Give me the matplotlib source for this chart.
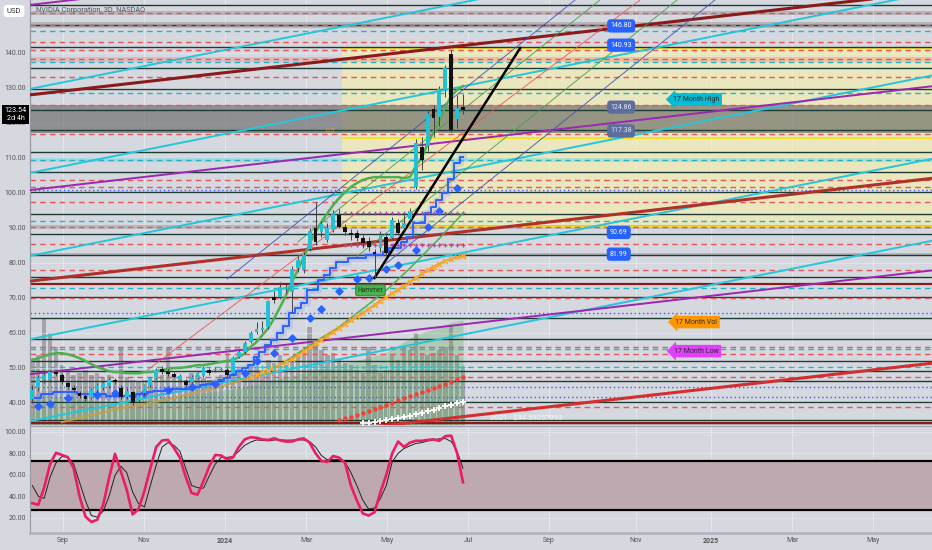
import numpy as np
import matplotlib
matplotlib.use('Agg')
import matplotlib.pyplot as plt
from matplotlib.transforms import blended_transform_factory

plt.rcParams['font.family'] = ['Roboto', 'DejaVu Sans']

nan = np.nan

# NVDA 3D candles, Aug 2023 -> Jun 2024
bar_open = [41.0, 44.3, 46.5, 46.5, 48.8, 48.0, 45.7, 44.3, 42.8, 42.0,
            41.4, 43.7, 44.3, 44.8, 46.5, 44.3, 41.6, 43.0, 40.8, 42.8,
            45.0, 47.0, 49.7, 48.9, 48.3, 46.5, 46.2, 46.1, 47.1, 47.7,
            49.4, 49.3, 49.4, 49.4, 48.5, 53.2, 54.5, 57.4, 60.2, 60.8,
            61.7, 70.3, 70.3, 72.5, 71.7, 78.5, 78.0, 84.0, 90.0, 88.8,
            86.6, 89.4, 93.7, 90.3, 88.6, 88.5, 87.1, 86.2, 83.2, 84.2,
            87.4, 87.1, 91.4, 90.0, 92.5, 101.7, 113.1, 113.4, 124.0, 121.7,
            129.4, 139.7, 121.1, 124.6]
bar_high = [45.0, 48.0, 49.0, 49.5, 49.5, 48.5, 46.2, 45.0, 43.5, 42.5,
            44.2, 45.6, 46.2, 47.0, 47.2, 45.0, 44.2, 43.5, 42.5, 45.5,
            47.5, 49.9, 50.5, 49.6, 48.8, 48.2, 46.7, 48.0, 49.0, 50.5,
            50.0, 50.2, 50.3, 49.9, 53.5, 55.2, 57.6, 60.5, 63.0, 63.5,
            69.5, 72.0, 74.5, 74.0, 79.0, 82.0, 83.0, 90.0, 97.4, 92.0,
            91.5, 95.0, 95.5, 91.2, 89.8, 89.5, 88.0, 87.5, 84.0, 89.0,
            88.5, 93.0, 92.5, 94.0, 95.6, 115.5, 116.0, 123.5, 125.2, 130.5,
            136.5, 140.8, 128.0, 128.2]
bar_low = [40.0, 43.5, 45.8, 46.0, 47.8, 45.5, 44.0, 43.2, 41.5, 40.5,
           41.0, 43.2, 43.8, 44.2, 45.4, 41.0, 41.0, 39.5, 40.3, 42.4,
           44.6, 46.8, 48.3, 47.6, 47.0, 46.0, 44.6, 45.7, 46.8, 47.3,
           48.0, 48.8, 49.0, 47.5, 48.0, 52.8, 54.0, 57.0, 59.8, 60.3,
           61.0, 68.5, 69.8, 71.5, 66.0, 77.5, 77.2, 83.5, 85.0, 87.5,
           86.0, 88.8, 90.0, 88.0, 86.5, 86.2, 84.3, 83.5, 75.7, 83.0,
           82.0, 86.5, 88.0, 89.5, 91.8, 101.2, 106.5, 112.0, 116.0, 119.0,
           127.5, 117.5, 118.5, 122.4]
bar_close = [43.7, 47.1, 48.0, 48.9, 48.2, 46.0, 44.5, 43.7, 42.0, 41.1,
             43.7, 45.1, 45.7, 46.5, 46.0, 41.7, 43.5, 40.1, 42.0, 45.0,
             47.0, 49.4, 48.8, 48.2, 47.4, 47.7, 45.0, 47.5, 48.5, 50.0,
             48.5, 49.7, 49.8, 48.0, 52.8, 54.6, 57.1, 60.0, 61.0, 61.5,
             69.0, 69.4, 73.0, 73.2, 78.2, 80.8, 82.3, 89.0, 85.9, 91.2,
             90.0, 94.2, 90.3, 88.8, 88.1, 87.1, 85.7, 84.5, 82.5, 88.0,
             82.8, 92.3, 88.5, 91.4, 94.8, 114.2, 109.4, 122.5, 121.5, 129.7,
             135.7, 118.1, 124.2, 123.54]
volume_m = [1005, 1050, 1605, 1380, 1170, 900, 825, 750, 780, 825,
            750, 780, 720, 750, 675, 1155, 720, 675, 660, 675,
            630, 720, 750, 1155, 750, 720, 675, 780, 750, 705,
            675, 660, 750, 1080, 900, 870, 825, 900, 870, 825,
            975, 930, 1050, 900, 1020, 1080, 1125, 1470, 1200, 1125,
            1050, 1080, 975, 930, 900, 825, 780, 1170, 900, 780,
            825, 1050, 975, 1170, 1125, 1380, 1080, 1050, 1080, 1125,
            1170, 1500, 1050, 870]

# overlays
green_ma = [52.2, 52.8, 53.4, 53.9, 54.2, 54.2, 53.9, 53.4, 52.8, 52.0,
            51.1, 50.2, 49.7, 49.1, 48.8, 48.8, 48.5, 48.5, 48.5, 48.8,
            48.8, 49.1, 49.4, 49.7, 50.0, 50.0, 50.2, 50.5, 50.8, 50.8,
            51.1, 51.4, 51.7, 52.0, 52.2, 53.1, 54.2, 56.0, 57.4, 59.4,
            61.4, 64.2, 67.4, 70.8, 74.5, 78.0, 81.7, 85.4, 88.8, 91.7,
            94.2, 96.5, 98.5, 100.2, 101.7, 102.8, 103.7, 104.2, 104.5, 104.5,
            104.5, 104.5, 104.5, 104.2, 104.5, 107.7, 110.0, 114.0, 117.4, 120.8,
            124.5, 127.7, 129.4, 130.5]
lower_green = [50.8, 52.0, 53.1, 54.2, 55.3, 56.4, 57.5, 58.6, 59.6, 60.6,
               61.7, 63.0, 64.3, 65.6, 66.9, 68.2, 69.5, 70.9, 72.2, 73.7,
               75.3, 76.9, 78.5, 80.2, 81.9, 83.6, 85.3, 87.0, 88.8, 90.6,
               92.4, 94.2]
lower_green_start = 42
blue_step = [41.5, 41.5, 42.5, 42.5, 43.0, 43.0, 43.0, 43.0, 42.5, 42.5,
             42.5, 42.5, 42.5, 42.0, 42.0, 42.0, 42.0, 42.0, 42.5, 42.5,
             43.0, 43.5, 43.5, 44.0, 44.0, 44.0, 44.0, 44.5, 44.5, 45.0,
             45.5, 46.0, 46.5, 47.0, 48.0, 49.0, 50.0, 50.8, 53.1, 54.5,
             56.5, 58.0, 60.0, 62.0, 65.7, 67.0, 68.5, 72.2, 72.2, 75.1,
             76.5, 78.5, 80.2, 80.2, 81.4, 81.4, 81.4, 82.3, 82.3, 82.3,
             83.2, 84.2, 84.2, 86.0, 87.4, 91.4, 91.4, 94.2, 96.0, 98.0,
             100.0, 104.0, 108.5, 110.2]
diamond_bar = [1, 3, 6, 11, 14, 19, 23, 27, 31, 36, 38, 41, 44, 47, 49, 52,
               55, 57, 60, 62, 65, 67, 69, 72]
diamond_price = [39.1, 39.7, 41.4, 42.2, 42.8, 42.8, 43.7, 44.5, 45.4, 48.5,
                 51.9, 54.2, 58.6, 64.2, 66.8, 72.0, 75.4, 75.7, 78.2, 79.4,
                 83.7, 90.3, 94.8, 101.4]
orange_ma = [nan, nan, nan, nan, nan, 34.5, 34.9, 35.3, 35.7, 36.1,
             36.5, 36.9, 37.3, 37.7, 38.1, 38.5, 38.8, 39.1, 39.4, 39.7,
             40.0, 40.3, 40.7, 41.1, 41.5, 41.9, 42.3, 42.7, 43.1, 43.5,
             43.9, 44.3, 44.7, 45.2, 45.7, 46.2, 46.8, 47.4, 48.0, 48.7,
             49.4, 50.1, 50.8, 51.6, 52.6, 53.7, 54.8, 55.9, 57.0, 58.1,
             59.2, 60.3, 61.4, 62.5, 63.6, 64.7, 65.8, 66.9, 68.0, 69.1,
             70.2, 71.3, 72.4, 73.5, 74.6, 75.7, 76.8, 77.9, 78.9, 79.8,
             80.6, 81.2, 81.6, 82.0]
orange_cross_start = 37
red_dots = [35.1, 35.6, 36.1, 36.6, 37.1, 37.7, 38.3, 38.9, 39.5, 40.1, 40.7,
            41.3, 41.9, 42.5, 43.1, 43.7, 44.3, 44.9, 45.5, 46.1, 46.7, 47.4]
red_dots_start = 52
white_plus = [34.2, 34.4, 34.6, 34.9, 35.2, 35.5, 35.8, 36.1, 36.4, 36.8,
              37.2, 37.6, 38.0, 38.5, 39.0, 39.5, 40.0, 40.4]
white_plus_start = 56
cloud_top = [41.0, 41.2, 41.4, 41.5, 41.6, 41.6, 41.5, 41.4, 41.2, 41.0,
             40.8, 40.6, 40.5, 40.5, 40.6, 40.8, 41.0, 41.0, 41.0, 41.1,
             41.2, 41.4, 41.6, 41.8, 42.0, 42.2, 42.4, 42.6, 42.8, 43.0,
             43.2, 43.4, 43.6, 43.8, 44.0, 44.3, 44.6, 45.0, 45.4, 45.8,
             46.2, 46.6, 47.0, 47.4, 47.8, 48.2, 48.6, 49.0, 49.4, 49.8,
             50.2, 50.6, 51.0, 51.4, 51.8, 52.2, 52.6, 53.0, 53.5, 54.0,
             54.5, 55.5, 56.5, 57.5, 58.5, 59.4, 60.0, 60.6, 61.2, 61.8,
             62.4, 63.0, 63.4, 63.7]
purple_plus_levels = [94.3, 85.0]
purple_plus_start = 53

# stochastic panel
stoch_k = [33.5, 32, 48, 70, 80.5, 78.5, 76.5, 66, 40, 21,
           16, 18, 32, 57, 79.5, 63, 46, 23, 28, 45,
           66, 86, 92, 92.5, 85, 76, 58, 43, 41.5, 54,
           68, 78.5, 78, 74.5, 76, 86, 93, 95, 94.5, 93,
           92.5, 94, 92, 91, 91, 93, 94, 90, 80, 73,
           72, 77.5, 76, 71, 50, 36, 24, 22, 25, 43.8,
           60, 80, 91, 86, 90, 91.7, 91.7, 92.5, 93, 91.7,
           96, 96.5, 80, 53]
stoch_d = [50, 40, 38, 57.7, 71, 77, 76.5, 70, 53, 36,
           22, 20.6, 26, 40, 59.3, 68, 62, 44, 33, 30,
           50, 69, 86, 90, 87.5, 82, 66, 50, 48, 47.5,
           59, 70, 76.2, 76.2, 77, 82, 87.5, 90.5, 92.5, 92,
           91.7, 92.4, 92.6, 92.3, 92.4, 92.6, 92.4, 91, 86, 78,
           74, 74.5, 74, 72, 62, 50, 36.5, 28, 29, 38,
           50, 72, 80, 84.5, 87, 89.2, 90, 91.5, 92.6, 93.6,
           93.8, 91, 82, 66]
stoch_upper, stoch_lower = 72.5, 27.0

# horizontal levels
solid_levels = [153.7, 148.0, 141.8, 135.6, 129.7, 123.7, 118.0, 111.8, 105.9,
                100.2, 93.9, 88.2, 82.3, 76.1, 70.3, 64.3, 58.2, 52.0, 49.1,
                46.4, 40.2, 35.1]
red_dash_levels = [151.5, 147.9, 143.2, 140.8, 138.2, 133.2, 125.1, 116.8, 103.7,
                   101.7, 97.5, 90.3, 85.4, 77.9, 69.9, 56.0, 54.0, 47.5, 38.9]
teal_dash_levels = [146.2, 137.5, 128.6, 109.4, 92.1, 72.9, 55.4, 50.4]
blue_dot_levels = [100.8, 65.8, 44.6, 41.6]
darkred_levels = [74.0, 34.4]
gray_bands = [(150.9, 152.1), (147.2, 148.8), (89.8, 90.9), (81.9, 82.8), (33.7, 34.6)]
range_band = (117.2, 125.0)
pink_band = (137.4, 138.8)
teal_band = (108.8, 110.0)
fib_start, fib_top, fib_mid, fib_bottom = 52.5, 141.4, 115.6, 90.3

# parallel channels: price at left edge, rise per bar
red_starts, red_slope = [128.0, 74.8, 22.0], 0.192
cyan_starts, cyan_slope = [129.7, 105.7, 82.0, 58.2, 34.8], 0.337
purple_starts, purple_slope = [153.7, 100.8, 48.2], 0.194
fan_lines = [(33, 75.4, 92.0, 155.1, '#3f51b5'), (45, 86.0, 96.2, 155.1, '#43a047'),
             (19.5, 49.4, 103.0, 155.1, '#ef5350'), (55, 81.8, 109.3, 155.1, '#43a047'),
             (60, 79.9, 115.7, 155.1, '#3f51b5')]
trend_line = (58, 75.7, 82.7, 141.4)

month_ticks = [5.2, 18.9, 32.7, 46.4, 60.1, 73.9, 87.6, 102.3, 115.0, 128.8, 142.5]
month_labels = ['Sep', 'Nov', '2024', 'Mar', 'May', 'Jul', 'Sep', 'Nov', '2025', 'Mar', 'May']
price_ticks = [40, 50, 60, 70, 80, 90, 100, 110, 120, 130, 140]
stoch_ticks = [20, 40, 60, 80, 100]

bg = '#d5d8df'
xmin, xmax = -0.4, 152.5
bars = np.arange(len(bar_close))

fig = plt.figure(figsize=(9.32, 5.5), dpi=100, facecolor=bg)
ax_v = fig.add_axes([30 / 932, 125 / 550, 902 / 932, 425 / 550])
ax = fig.add_axes([30 / 932, 125 / 550, 902 / 932, 425 / 550], sharex=ax_v)
ax2 = fig.add_axes([30 / 932, 17 / 550, 902 / 932, 107 / 550], sharex=ax_v)

ax_v.set_facecolor(bg)
ax.patch.set_visible(False)
ax2.set_facecolor(bg)

# volume behind everything
ax_v.bar(bars, volume_m, width=0.75, color='#7a7a7a', alpha=0.55, zorder=1)
ax_v.set_ylim(0, 6375)
ax_v.set_yticks([])

ax.set_xlim(xmin, xmax)
ax.set_ylim(33.7, 155.1)

for t in month_ticks:
    ax.axvline(t, color='#eceef2', lw=0.7, alpha=0.7, zorder=0.2)
    ax2.axvline(t, color='#eceef2', lw=0.7, alpha=0.7, zorder=0.2)
for p in price_ticks:
    ax.axhline(p, color='#eceef2', lw=0.6, alpha=0.6, zorder=0.2)

# zones and bands
ax.fill_between([fib_start, xmax], fib_bottom, fib_top, color='#fff59d', alpha=0.5, lw=0, zorder=0.5)
for lvl in (fib_top, fib_mid, fib_bottom):
    ax.plot([fib_start, xmax], [lvl, lvl], color='#ffe000', lw=1.1, zorder=1.5)
for lo, hi in gray_bands:
    ax.axhspan(lo, hi, color='#777777', alpha=0.35, lw=0, zorder=0.8)
ax.axhspan(*range_band, color='#5f5f5f', alpha=0.6, lw=0, zorder=0.8)
ax.axhspan(*pink_band, color='#f08080', alpha=0.35, lw=0, zorder=0.8)
ax.axhspan(*teal_band, color='#4dd0e1', alpha=0.35, lw=0, zorder=0.8)

# cloud
ax.fill_between(bars, 33.7, cloud_top, color='#5aa860', alpha=0.3, lw=0, zorder=1)

for lvl in solid_levels:
    ax.axhline(lvl, color='#1e3b36', lw=1.0, zorder=2)
for lvl in red_dash_levels:
    ax.axhline(lvl, color='#e8565a', lw=1.0, ls=(0, (4, 3)), zorder=2)
for lvl in teal_dash_levels:
    ax.axhline(lvl, color='#26b5c4', lw=1.0, ls=(0, (4, 3)), zorder=2)
for lvl in blue_dot_levels:
    ax.axhline(lvl, color='#3d5afe', lw=1.0, ls=(0, (1, 2)), zorder=2)
for lvl in darkred_levels:
    ax.axhline(lvl, color='#8b1a1a', lw=1.6, zorder=2)

# channels
span = xmax - xmin
for s in cyan_starts:
    ax.plot([xmin, xmax], [s, s + cyan_slope * span], color='#26c6da', lw=1.4, zorder=3)
for s in purple_starts:
    ax.plot([xmin, xmax], [s, s + purple_slope * span], color='#9c27b0', lw=1.4, zorder=3)
red_colors = ['#8b1a1a', '#b0302a', '#d32f2f']
for s, c in zip(red_starts, red_colors):
    ax.plot([xmin, xmax], [s, s + red_slope * span], color=c, lw=2.2, zorder=3)
for b0, p0, b1, p1, c in fan_lines:
    ax.plot([b0, b1], [p0, p1], color=c, lw=0.6, zorder=3)

# indicator lines
ax.plot(bars, green_ma, color='#4caf50', lw=1.8, zorder=4)
ax.plot(bars[lower_green_start:], lower_green, color='#4caf50', lw=1.1, zorder=4)
ax.plot(bars, blue_step, color='#2962ff', lw=1.4, drawstyle='steps-mid', zorder=4)
ax.plot(bars, blue_step, color='#5c7cfa', lw=5, alpha=0.18, drawstyle='steps-mid', zorder=3.9)
ax.scatter(diamond_bar, diamond_price, marker='D', s=13, color='#2962ff', zorder=4.5)
ax.plot(bars, orange_ma, color='#c8a040', lw=1.6, alpha=0.8, zorder=4)
ax.scatter(bars[orange_cross_start:], orange_ma[orange_cross_start:], marker='x', s=12,
           color='#ffa726', lw=1.2, zorder=4.5)
ax.scatter(bars[red_dots_start:], red_dots, marker='o', s=5, color='#f44336', zorder=4.5)
ax.scatter(bars[white_plus_start:], white_plus, marker='+', s=16, color='white', lw=1.3, zorder=4.5)
for lvl in purple_plus_levels:
    xs = bars[purple_plus_start:]
    ax.scatter(xs, [lvl] * len(xs), marker='+', s=10, color='#ab47bc', lw=0.9, zorder=4.5)
xs = bars[orange_cross_start:]
ax.scatter(xs, [teal_dash_levels[-1]] * len(xs), marker='+', s=10, color='#26c6da', lw=0.9, zorder=4.5)

ax.plot([trend_line[0], trend_line[2]], [trend_line[1], trend_line[3]], color='black', lw=1.8, zorder=5)

# candles
o = np.array(bar_open)
c = np.array(bar_close)
up = c >= o
ax.vlines(bars, bar_low, bar_high, color='#444444', lw=0.7, zorder=5.5)
ax.bar(bars[up], (c - o)[up], bottom=o[up], width=0.65, color='#22c1d6', zorder=6)
ax.bar(bars[~up], (o - c)[~up], bottom=c[~up], width=0.65, color='#111111', zorder=6)

# labels on the chart
def tag(x, y, text, fc, tc='white'):
    ax.text(x, y, text, fontsize=5, color=tc, ha='center', va='center', zorder=9,
            bbox=dict(boxstyle='round,pad=0.45', fc=fc, ec='none'))

tag(99.8, 147.7, '146.80', '#2962ff')
tag(99.8, 142.2, '140.93', '#2962ff')
tag(99.8, 124.5, '124.86', '#5b6e9e', '#e6e8ef')
tag(99.8, 117.7, '117.38', '#5b6e9e', '#e6e8ef')
tag(99.4, 88.7, '90.69', '#2962ff')
tag(99.4, 82.5, '81.99', '#2962ff')

for y, text, fc in [(126.7, '17 Month High', '#00bcd4'), (63.1, '17 Month Vol', '#ff9800'),
                    (54.8, '17 Month Low', '#e040fb')]:
    ax.text(112.5, y, text, fontsize=5, color='#2b2b2b', ha='center', va='center', zorder=9,
            bbox=dict(boxstyle='larrow,pad=0.4', fc=fc, ec='none'))

ax.text(57.3, 72.2, 'Hammer', fontsize=4.8, color='#1b3a1b', ha='center', va='center', zorder=9,
        bbox=dict(boxstyle='round,pad=0.3', fc='#4caf50', ec='#2e7d32', lw=0.6))
ax.text(50.5, 117.6, '0.5', fontsize=4.8, color='#e0a040', ha='center', va='center', zorder=7)
ax.text(77.6, 35.7, '2021 - $34.59057993', fontsize=5.5, color='white', alpha=0.8,
        ha='left', va='center', zorder=7)

# left axis
bt = blended_transform_factory(ax.transAxes, ax.transData)
ax.text(-0.016, 122.4, '123.54\n2d 4h', transform=bt, fontsize=5.2, color='white',
        ha='center', va='center', linespacing=1.1, zorder=10, clip_on=False,
        bbox=dict(boxstyle='square,pad=0.3', fc='black', ec='none'))
fig.text(14 / 932, 1 - 11 / 550, 'USD', fontsize=5.5, color='#333', ha='center', va='center',
         bbox=dict(boxstyle='round,pad=0.4', fc='white', ec='none'))
fig.text(36 / 932, 1 - 10 / 550, 'NVIDIA Corporation, 3D, NASDAQ', fontsize=5.3, color='#50535e',
         ha='left', va='center')

ax.set_yticks(price_ticks)
ax.set_yticklabels(['%.2f' % p for p in price_ticks])
for a in (ax, ax2, ax_v):
    a.tick_params(axis='both', length=0, labelsize=5, labelcolor='#555555', pad=3)
    for side in ('top', 'right', 'bottom'):
        a.spines[side].set_visible(False)
    a.spines['left'].set_color('#9598a1')
ax.tick_params(axis='x', labelbottom=False)
ax_v.tick_params(axis='x', labelbottom=False)

# stochastic panel
ax2.set_ylim(5.7, 105.5)
for p in stoch_ticks:
    ax2.axhline(p, color='#eceef2', lw=0.6, alpha=0.6, zorder=0.2)
ax2.fill_between([xmin, xmax], stoch_lower, stoch_upper, color='#bfa9b1', lw=0, zorder=1)
ax2.axhline(stoch_upper, color='black', lw=1.6, zorder=2)
ax2.axhline(stoch_lower, color='black', lw=1.6, zorder=2)
ax2.plot(bars, stoch_d, color='#222222', lw=0.7, zorder=3)
ax2.plot(bars, stoch_k, color='#e91e63', lw=1.9, zorder=4)
ax2.set_yticks(stoch_ticks)
ax2.set_yticklabels(['%.2f' % p for p in stoch_ticks])
ax2.spines['top'].set_visible(True)
ax2.spines['top'].set_color('#a0a3ab')
ax2.spines['bottom'].set_visible(True)
ax2.spines['bottom'].set_color('#b2b5be')
ax2.spines['bottom'].set_linewidth(2)
ax2.set_xticks(month_ticks)
ax2.set_xticklabels(month_labels)
for lab in ax2.get_xticklabels():
    if lab.get_text() in ('2024', '2025'):
        lab.set_fontweight('bold')
ax2.set_xlim(xmin, xmax)

fig.savefig('out.png', dpi=100, facecolor=bg)
